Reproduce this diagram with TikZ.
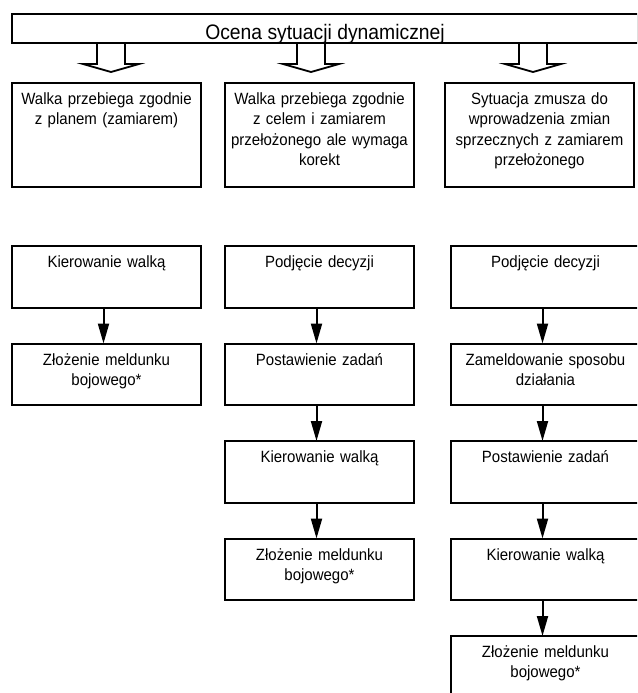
\documentclass[tikz,border=0pt]{standalone}
\usepackage{fontspec}
\setmainfont{Liberation Sans}
\newfontfamily\narrowfont[FakeStretch=0.92]{Liberation Sans}
\usetikzlibrary{positioning}
\usetikzlibrary{arrows.meta}
\newcommand\bigarrow[2]{\draw[hollow] ([xshift=#2pt-14pt,yshift=40pt]#1.north) -- ++(0,21) -- ++(-14,0) -- ++(28,8) -- ++(28,-8) -- ++(-14,0) -- ++(0,-21);}

\begin{document}
\begin{tikzpicture}[x=1pt,y=-1pt,node distance=36pt,
	box/.style={draw,line width=2pt,outer sep=0pt,minimum width=189pt,text width=181pt,align=center,
		inner xsep=4pt,inner ysep=0pt,text height=21.5pt,text depth=40pt,font=\narrowfont\fontsize{16.3}{20.3}\selectfont},
	tallbox/.style={box,text depth=82.5pt},
	conn/.style={line width=2pt,-{Triangle[length=20pt,width=11pt]}},
	hollow/.style={line width=1.8pt,line join=miter}]
	\useasboundingbox (0,0) rectangle (637,693);
	\clip (0,0) rectangle (637,693);
	
	%TOP
	\node[draw,line width=2pt,outer sep=0pt,anchor=north west,minimum width=626pt,inner sep=0pt,
		text height=26pt,text depth=3pt,font=\narrowfont\fontsize{21}{24}\selectfont] (ocena) at (12,14) {Ocena sytuacji dynamicznej};
	
	%SITUATIONS
	\node[tallbox,anchor=north] (plan) at (106.5,83) {Walka przebiega zgodnie\\ z planem (zamiarem)};
	\node[tallbox,anchor=north] (korekt) at (319.5,83) {Walka przebiega zgodnie\\ z celem i zamiarem\\ przełożonego ale wymaga\\ korekt};
	\node[tallbox,anchor=north] (zmiany) at (539.5,83) {Sytuacja zmusza do\\ wprowadzenia zmian\\ sprzecznych z zamiarem\\ przełożonego};
	\bigarrow{plan}{4.5}
	\bigarrow{korekt}{-8.5}
	\bigarrow{zmiany}{-6.5}
	
	%FIRST COLUMN
	\node[box,anchor=north] (kier1) at (106.5,246) {Kierowanie walką};
	\node[box,below=of kier1] (zlo1) {Złożenie meldunku\\ bojowego*};
	
	%SECOND COLUMN
	\node[box,anchor=north] (decyz2) at (319.5,246) {Podjęcie decyzji};
	\node[box,below=of decyz2] (zad2) {Postawienie zadań};
	\node[box,below=of zad2] (kier2) {Kierowanie walką};
	\node[box,below=of kier2] (zlo2) {Złożenie meldunku\\ bojowego*};
	
	%THIRD COLUMN
	\node[box,anchor=north] (decyz3) at (545.5,246) {Podjęcie decyzji};
	\node[box,below=of decyz3] (meld3) {Zameldowanie sposobu\\ działania};
	\node[box,below=of meld3] (zad3) {Postawienie zadań};
	\node[box,below=of zad3] (kier3) {Kierowanie walką};
	\node[box,below=of kier3] (zlo3) {Złożenie meldunku\\ bojowego*};
	
	%ARROWS
	\foreach \a/\b in {kier1/zlo1,decyz2/zad2,zad2/kier2,kier2/zlo2,decyz3/meld3,meld3/zad3,zad3/kier3,kier3/zlo3}
		\draw[conn] ([xshift=-3pt]\a.south) -- ([xshift=-3pt]\b.north);
\end{tikzpicture}
\end{document}
